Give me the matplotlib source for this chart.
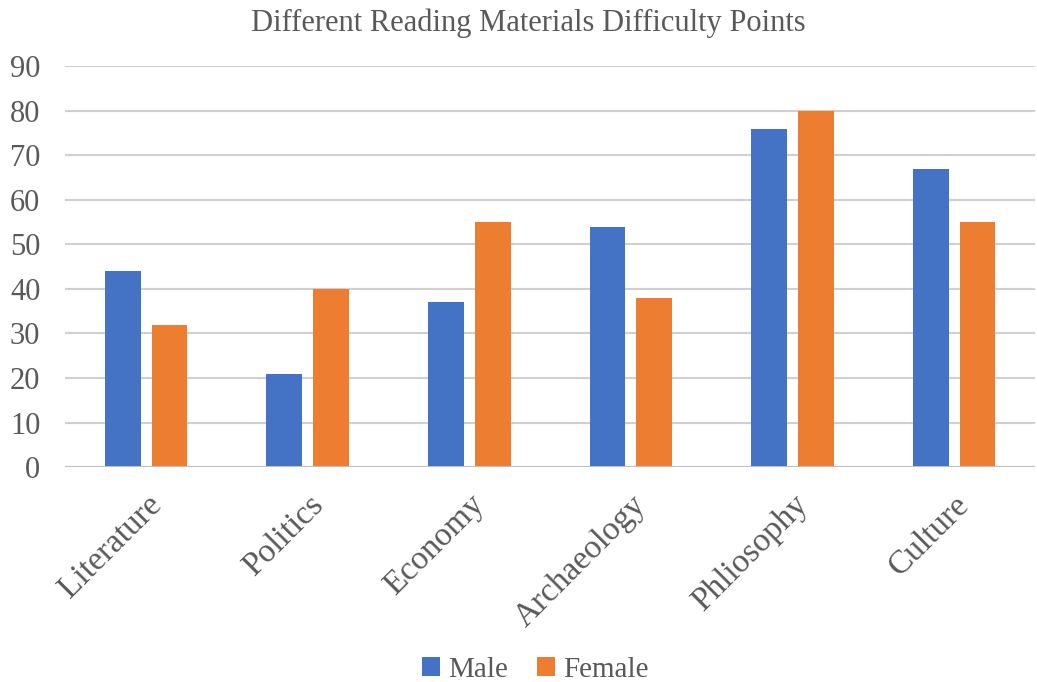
import numpy as np
import matplotlib.pyplot as plt

plt.rcParams['font.family'] = ['Liberation Serif', 'DejaVu Serif']

categories = ['Literature', 'Politics', 'Economy', 'Archaeology', 'Phliosophy', 'Culture']
male = [44, 21, 37, 54, 76, 67]
female = [32, 40, 55, 38, 80, 55]

grey = '#595959'

fig = plt.figure(figsize=(10.37, 6.82), dpi=100)
ax = fig.add_axes([0.063, 0.315, 0.935, 0.588])

x = np.arange(len(categories))
w = 0.222
off = 0.145
ax.bar(x - off, male, w, color='#4472C4', label='Male', zorder=3)
ax.bar(x + off, female, w, color='#ED7D31', label='Female', zorder=3)

ax.set_xlim(-0.5, len(categories) - 0.5)
ax.set_ylim(0, 90)
ax.set_yticks(range(0, 91, 10))
ax.yaxis.grid(True, color='#d0d0d0', linewidth=1.5, zorder=0)
ax.axhline(0, color='#bfbfbf', linewidth=1.5, zorder=4)
for s in ax.spines.values():
    s.set_visible(False)
ax.tick_params(axis='y', length=0, labelsize=22, colors=grey, pad=18)
ax.tick_params(axis='x', length=0, labelsize=24, colors=grey, pad=16)
ax.set_xticks(x)
ax.set_xticklabels(categories, rotation=45, ha='right', rotation_mode='anchor')

fig.text(0.509, 0.966, 'Different Reading Materials Difficulty Points',
         ha='center', va='center', fontsize=22, color=grey)

ax.legend(loc='center', bbox_to_anchor=(0.485, -0.505), ncol=2, frameon=False,
          prop={'family': ['Liberation Serif'], 'size': 21}, labelcolor=grey,
          handlelength=0.6, handleheight=0.6, handletextpad=0.3, columnspacing=1.0)

plt.savefig('out.png', dpi=100)
